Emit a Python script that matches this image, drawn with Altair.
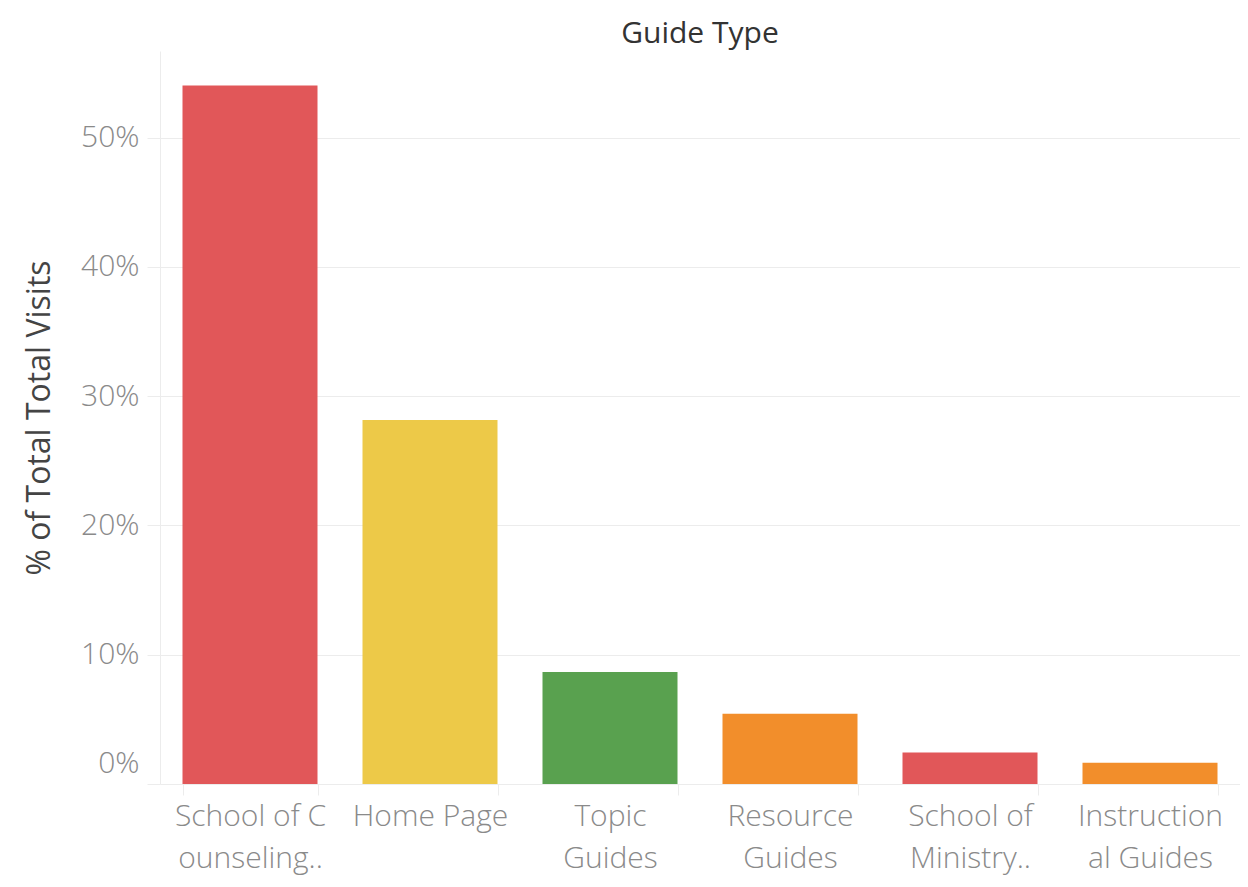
import altair as alt
import pandas as pd

categories = ["School of C|ounseling..", "Home Page", "Topic|Guides",
              "Resource|Guides", "School of|Ministry..", "Instruction|al Guides"]
shares = [0.5404, 0.2815, 0.0866, 0.0544, 0.0243, 0.0164]
colors = ["#E15759", "#EDC948", "#59A14F", "#F28E2B", "#E15759", "#F28E2B"]

df = pd.DataFrame({"cat": categories, "share": shares, "color": colors})

FONT = "Open Sans"
GRID = "#ececec"

chart = alt.Chart(df).mark_bar().encode(
    x=alt.X("cat:N", sort=categories, title=None,
            scale=alt.Scale(paddingInner=0.25, paddingOuter=0.125),
            axis=alt.Axis(labelAngle=0, labelExpr="split(datum.label, '|')",
                          labelFont=FONT, labelFontSize=30, labelColor="#8a8a8a",
                          labelFontWeight=300,
                          labelLineHeight=42, labelPadding=6, labelBaseline="top",
                          tickBand="extent", tickSize=11, tickColor=GRID,
                          domainColor=GRID, grid=False)),
    y=alt.Y("share:Q", title="% of Total Total Visits",
            scale=alt.Scale(domain=[0, 0.567], nice=False),
            axis=alt.Axis(format=".0%", values=[0, 0.1, 0.2, 0.3, 0.4, 0.5],
                          labelFont=FONT, labelFontSize=30, labelColor="#8a8a8a",
                          labelFontWeight=300,
                          labelFlush=True, labelFlushOffset=-6,
                          tickSize=13, tickColor=GRID, domainColor=GRID,
                          gridColor=GRID, labelPadding=8,
                          titleFont=FONT, titleFontSize=32, titleFontWeight=500,
                          titleColor="#444444", titlePadding=24)),
    color=alt.Color("color:N", scale=None, legend=None),
).properties(
    width=1080, height=733,
    title=alt.TitleParams("Guide Type", font=FONT, fontSize=30, fontWeight=500,
                          color="#333333", anchor="middle", offset=2),
    autosize=alt.AutoSizeParams(type="none"),
    padding={"left": 152, "top": 43, "right": 0, "bottom": 95},
).configure_view(stroke=None)

chart.save("out.html", embed_options={"renderer": "svg", "actions": False})
